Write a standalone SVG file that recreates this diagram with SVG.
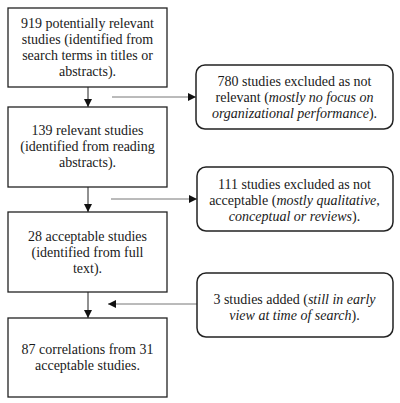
<svg xmlns="http://www.w3.org/2000/svg" width="400" height="403" viewBox="0 0 400 403">
<defs>
<marker id="ah" viewBox="0 0 10 10" refX="10" refY="5" markerWidth="8" markerHeight="8" markerUnits="userSpaceOnUse" orient="auto">
<path d="M0,0 L10,5 L0,10 z" fill="#111"/>
</marker>
</defs>
<style>
.box{fill:#fff;stroke:#222;stroke-width:1.3}
.rbox{fill:#fff;stroke:#222;stroke-width:1.5}
.t{font-family:'Liberation Serif','Times New Roman','DejaVu Serif',serif;font-size:14px;fill:#1a1a1a;text-anchor:middle}
.i{font-style:italic}
.v{stroke:#222;stroke-width:1;fill:none}
.h{stroke:#777;stroke-width:1;fill:none}
</style>
<rect width="400" height="403" fill="#fff"/>
<g id="connectors">
<line class="v" x1="88" y1="87" x2="88" y2="107" marker-end="url(#ah)"/>
<line class="v" x1="88" y1="187" x2="88" y2="212" marker-end="url(#ah)"/>
<line class="v" x1="88" y1="292" x2="88" y2="318" marker-end="url(#ah)"/>
<line class="h" x1="112" y1="97" x2="196" y2="97" marker-end="url(#ah)"/>
<line class="h" x1="111" y1="199" x2="197" y2="199" marker-end="url(#ah)"/>
<line class="h" x1="197" y1="304" x2="108" y2="304" marker-end="url(#ah)"/>
</g>
<g id="n1" class="t" font-family="Liberation Serif, serif">
<rect class="box" x="8" y="8" width="159" height="79"/>
<text x="87.5" y="28">919 potentially relevant</text>
<text x="87.5" y="44">studies (identified from</text>
<text x="87.5" y="60">search terms in titles or</text>
<text x="87.5" y="76">abstracts).</text>
</g>
<g id="n2" class="t">
<rect class="box" x="8" y="107" width="159" height="80"/>
<text x="87.5" y="135">139 relevant studies</text>
<text x="87.5" y="151">(identified from reading</text>
<text x="87.5" y="167">abstracts).</text>
</g>
<g id="n3" class="t">
<rect class="box" x="8" y="212" width="159" height="80"/>
<text x="87.5" y="241">28 acceptable studies</text>
<text x="87.5" y="257">(identified from full</text>
<text x="87.5" y="273">text).</text>
</g>
<g id="n4" class="t">
<rect class="box" x="8" y="318" width="159" height="79"/>
<text x="87.5" y="354">87 correlations from 31</text>
<text x="87.5" y="370">acceptable studies.</text>
</g>
<g id="r1" class="t">
<rect class="rbox" x="196" y="65" width="197" height="64" rx="9"/>
<text x="294.5" y="86">780 studies excluded as not</text>
<text x="294.5" y="102">relevant (<tspan class="i">mostly no focus on</tspan></text>
<text x="294.5" y="118"><tspan class="i">organizational performance</tspan>).</text>
</g>
<g id="r2" class="t">
<rect class="rbox" x="197" y="167" width="196" height="64" rx="9"/>
<text x="294.5" y="189">111 studies excluded as not</text>
<text x="294.5" y="205">acceptable (<tspan class="i">mostly qualitative,</tspan></text>
<text x="294.5" y="221"><tspan class="i">conceptual or reviews</tspan>).</text>
</g>
<g id="r3" class="t">
<rect class="rbox" x="197" y="273" width="196" height="64" rx="9"/>
<text x="294.5" y="304">3 studies added (<tspan class="i">still in early</tspan></text>
<text x="294.5" y="320"><tspan class="i">view at time of search</tspan>).</text>
</g>
</svg>
